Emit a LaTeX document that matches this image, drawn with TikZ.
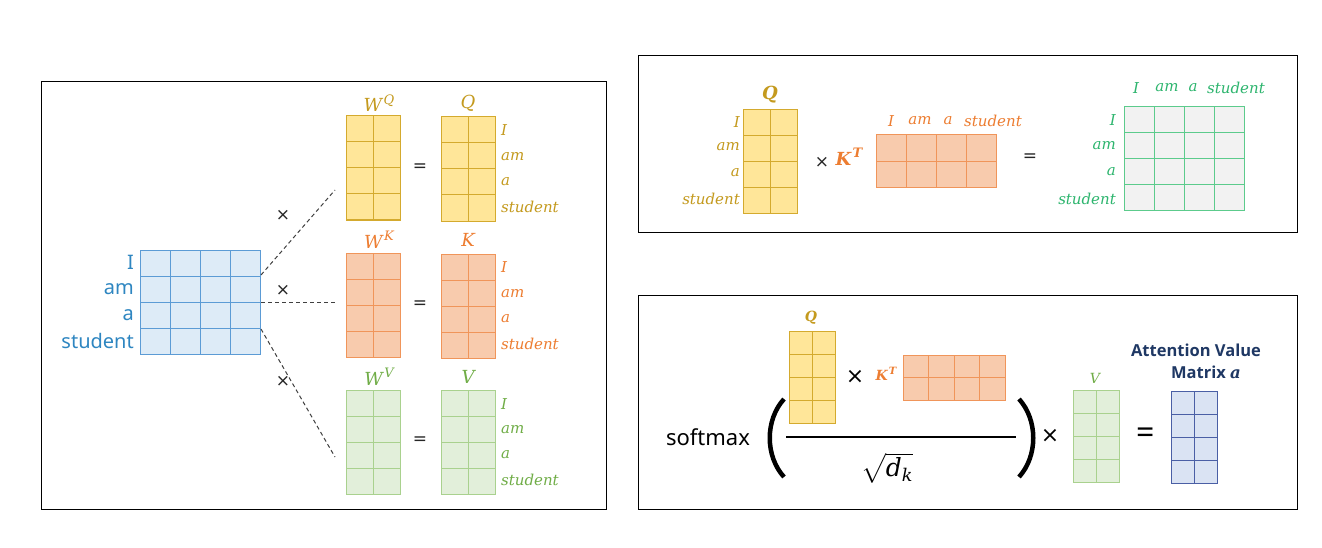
\documentclass[tikz,border=0pt]{standalone}
\usepackage{amsmath}
\usepackage{bm}
\usepackage{fontspec}
\newfontfamily\sansf{Noto Sans}
\newfontfamily\sansb{Open Sans}
\newfontfamily\serifi{DejaVu Serif}
\newfontfamily\opf{DejaVu Sans}
\usetikzlibrary{calc}
\definecolor{yfill}{HTML}{FFE699}
\definecolor{yline}{HTML}{D4AA2E}
\definecolor{ytext}{HTML}{C49A1E}
\definecolor{ofill}{HTML}{F8CBAD}
\definecolor{oline}{HTML}{F0955A}
\definecolor{otext}{HTML}{ED7D31}
\definecolor{gfill}{HTML}{E2EFDA}
\definecolor{gline}{HTML}{A9D18E}
\definecolor{gtext}{HTML}{70AD47}
\definecolor{bfill}{HTML}{DDEBF7}
\definecolor{bline}{HTML}{5B9BD5}
\definecolor{btext}{HTML}{2E86C1}
\definecolor{rfill}{HTML}{F2F2F2}
\definecolor{rline}{HTML}{5CCB8C}
\definecolor{rtext}{HTML}{2DB56E}
\definecolor{nfill}{HTML}{DAE3F3}
\definecolor{nline}{HTML}{4A5FA5}
\definecolor{ntext}{HTML}{1F3864}
\newcommand{\gmat}[9]{%
  \node[matbox, draw=#9, fill=#8, minimum width={#4*#6pt}, minimum height={#5*#7pt}, anchor=north west] (#1) at (#2,#3) {};
  \pgfmathtruncatemacro\gmc{#4-1}\pgfmathtruncatemacro\gmr{#5-1}
  \foreach \i in {1,...,\gmc}{\draw[draw=#9, line width=1pt] (#2+\i*#6,#3) -- (#2+\i*#6,#3+#5*#7);}
  \foreach \j in {1,...,\gmr}{\draw[draw=#9, line width=1pt] (#2,#3+\j*#7) -- (#2+#4*#6,#3+\j*#7);}
}
\newcommand{\msup}[3]{#1\kern0.08em\raisebox{0.42em}{\fontsize{#3}{#3}\selectfont #2}}
\tikzset{
  matbox/.style={rectangle, inner sep=0pt, outer sep=0pt, line width=1pt},
  panel/.style={draw=black, line width=0.9pt},
  sanslab/.style={inner sep=0pt, font=\sansf\fontsize{20}{20}\selectfont},
  ilab/.style={inner sep=0pt, font=\serifi\itshape\fontsize{15}{15}\selectfont},
  iblab/.style={inner sep=0pt, font=\serifi\bfseries\itshape\fontsize{14}{14}\selectfont},
  mlab/.style={inner sep=0pt, font=\serifi\itshape\fontsize{18}{18}\selectfont},
  oplab/.style={inner sep=0pt, font=\opf\fontsize{17}{17}\selectfont, text=black!85},
  dashline/.style={draw=black!75, dash pattern=on 4pt off 3pt, line width=1pt},
}
\begin{document}
\begin{tikzpicture}[x=1pt,y=-1pt]
\useasboundingbox (0,0) rectangle (1322,548);
\fill[white] (0,0) rectangle (1322,548);
% panels
\draw[panel] (41,81) rectangle (606,509);
\draw[panel] (638,55) rectangle (1297,232);
\draw[panel] (638,295) rectangle (1297,509);

% ===== left panel =====
\gmat{X}{140}{250}{4}{4}{30}{26}{bfill}{bline}
\foreach \t/\yy [count=\k] in {I/262,am/289,a/315,student/341}
  \node[sanslab, text=btext, anchor=east] (xl\k) at (134,\yy) {\t};

\gmat{WQ}{346}{116}{2}{4}{27}{26}{yfill}{yline}
\gmat{QA}{441}{117}{2}{4}{27}{26}{yfill}{yline}
\gmat{WK}{346}{253}{2}{4}{27}{26}{ofill}{oline}
\gmat{KA}{441}{254}{2}{4}{27}{26}{ofill}{oline}
\gmat{WV}{346}{390}{2}{4}{27}{26}{gfill}{gline}
\gmat{VA}{441}{390}{2}{4}{27}{26}{gfill}{gline}

\node[mlab, text=ytext] (wql) at (379,103) {\msup{W}{Q}{13}};
\node[mlab, text=ytext] (ql) at (468,103) {Q};
\node[mlab, text=otext] (wkl) at (379,240) {\msup{W}{K}{13}};
\node[mlab, text=otext] (kl) at (468,240) {K};
\node[mlab, text=gtext] (wvl) at (379,377) {\msup{W}{V}{13}};
\node[mlab, text=gtext] (vl) at (468,377) {V};

\foreach \t/\yy [count=\k] in {I/130,am/157,a/182,student/207}
  \node[ilab, text=ytext, anchor=west] (qr\k) at (501,\yy) {\t};
\foreach \t/\yy [count=\k] in {I/267,am/294,a/319,student/344}
  \node[ilab, text=otext, anchor=west] (kr\k) at (501,\yy) {\t};
\foreach \t/\yy [count=\k] in {I/404,am/430,a/455,student/480}
  \node[ilab, text=gtext, anchor=west] (vr\k) at (501,\yy) {\t};

\node[oplab] (eq1) at (420,168) {=};
\node[oplab] (eq2) at (420,305) {=};
\node[oplab] (eq3) at (420,441) {=};
\node[oplab] (x1) at (283,215) {×};
\node[oplab] (x2) at (283,290) {×};
\node[oplab] (x3) at (283,381) {×};

\coordinate (d1s) at (261,275); \coordinate (d1e) at (335,190);
\coordinate (d2s) at (261,302); \coordinate (d2e) at (335,302);
\coordinate (d3s) at (261,329); \coordinate (d3e) at (335,457);
\draw[dashline] (d1s) -- (d1e);
\draw[dashline] (d2s) -- (d2e);
\draw[dashline] (d3s) -- (d3e);

% ===== upper right panel =====
\gmat{Q2}{743}{110}{2}{4}{27}{26}{yfill}{yline}
\node[iblab, text=ytext, font=\serifi\bfseries\itshape\fontsize{18}{18}\selectfont] (q2l) at (770,95) {Q};
\foreach \t/\yy [count=\k] in {I/122,am/147,a/173,student/199}
  \node[ilab, text=ytext, anchor=east] (q2r\k) at (740,\yy) {\t};
\node[oplab] (x4) at (822,162) {×};
\node[iblab, text=otext, font=\serifi\bfseries\itshape\fontsize{18}{18}\selectfont] (kt2l) at (849,157) {\msup{K}{T}{13}};
\gmat{KT2}{876}{135}{4}{2}{30}{26.5}{ofill}{oline}
\node[ilab, text=otext] (c1) at (891,121) {I};
\node[ilab, text=otext] (c2) at (920,121) {am};
\node[ilab, text=otext] (c3) at (948,121) {a};
\node[ilab, text=otext] (c4) at (993,121) {student};
\node[oplab] (eq4) at (1030,158) {=};
\gmat{R}{1124}{107}{4}{4}{30}{26}{rfill}{rline}
\node[ilab, text=rtext] (r1) at (1136,88) {I};
\node[ilab, text=rtext] (r2) at (1167,88) {am};
\node[ilab, text=rtext] (r3) at (1193,88) {a};
\node[ilab, text=rtext] (r4) at (1236,88) {student};
\foreach \t/\yy [count=\k] in {I/120,am/146,a/172,student/199}
  \node[ilab, text=rtext, anchor=east] (rr\k) at (1116,\yy) {\t};

% ===== lower right panel =====
\node[iblab, text=ytext] (q3l) at (811,318) {Q};
\gmat{Q3}{789}{331}{2}{4}{23}{23}{yfill}{yline}
\node[oplab, font=\opf\fontsize{22}{22}\selectfont, text=black] (x5) at (855,377) {×};
\node[iblab, text=otext] (kt3l) at (886,374) {\msup{K}{T}{10}};
\gmat{KT3}{903}{355}{4}{2}{25.5}{22.5}{ofill}{oline}
\coordinate (fl) at (786,437); \coordinate (fr) at (1016,437);
\draw[line width=2pt] (fl) -- (fr);
\draw[line width=4.5pt] (784,399) .. controls (765,420) and (765,456) .. (784,477);
\draw[line width=4.5pt] (1019,399) .. controls (1038,420) and (1038,456) .. (1019,477);
\node[inner sep=0pt, font=\sansf\fontsize{22}{22}\selectfont] (sm) at (708,437) {softmax};
\node[inner sep=0pt, font=\fontsize{25}{25}\selectfont] (sq) at (887,468) {$\sqrt{\text{\serifi\itshape d}_{\text{\serifi\itshape k}}}$};
\node[inner sep=0pt, font=\opf\fontsize{22}{22}\selectfont] (x6) at (1050,436) {×};
\node[ilab, text=gtext, font=\serifi\itshape\fontsize{14}{14}\selectfont] (v3l) at (1095,378) {V};
\gmat{V3}{1073}{390}{2}{4}{23}{23}{gfill}{gline}
\node[inner sep=0pt, font=\sansf\fontsize{32}{32}\selectfont] (eq5) at (1146,436) {=};
\gmat{A}{1171}{391}{2}{4}{23}{23}{nfill}{nline}
\node[inner sep=0pt, text=ntext, font=\sansb\bfseries\fontsize{16.5}{16.5}\selectfont] (at1) at (1196,350) {Attention Value};
\node[inner sep=0pt, text=ntext, font=\sansb\bfseries\fontsize{16.5}{16.5}\selectfont, anchor=east] (at2) at (1241,372) {Matrix {\serifi\bfseries\itshape a}};
\end{tikzpicture}
\end{document}
